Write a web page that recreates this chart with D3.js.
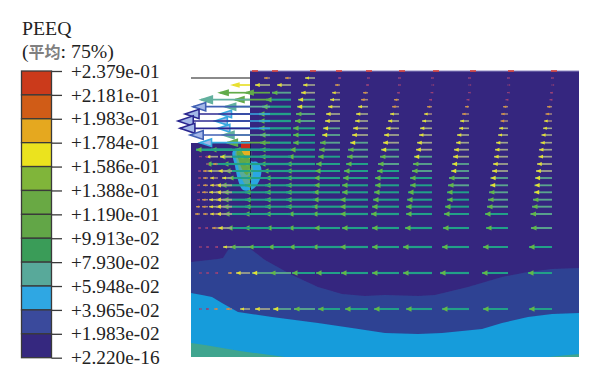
<!DOCTYPE html>
<html>
<head>
<meta charset="utf-8">
<script src="https://cdn.jsdelivr.net/npm/d3@7"></script>
<style>
  html, body { margin: 0; padding: 0; background: #fff; }
  svg { display: block; }
  text { font-family: "Liberation Serif", serif; fill: #222; }
</style>
</head>
<body>
<svg id="chart" width="600" height="384"></svg>
<script>
// Legend
const legendLabels = ["+2.379e-01", "+2.181e-01", "+1.983e-01", "+1.784e-01", "+1.586e-01", "+1.388e-01", "+1.190e-01",
  "+9.913e-02", "+7.930e-02", "+5.948e-02", "+3.965e-02", "+1.983e-02", "+2.220e-16"];
const legendColors = ["#cb3a1b", "#d05c17", "#e5a81f", "#ebe31e", "#80b53a", "#69a944", "#62a647",
  "#3a9c58", "#58a99a", "#2fa7e3", "#3a4a9c", "#35287f"];

// Node positions along the model (x from the left edge, y down from the top edge)
const nodeX = [361, 317, 278, 241, 208, 177, 149, 124, 100, 79, 59, 41, 27, 17, 9];
const rowY = [7, 14, 21.7, 28.7, 35.7, 43, 50, 57.3, 64, 71.7, 78.7, 85.7, 93, 100, 107, 114.3, 121.3, 128.7, 135.7, 143, 157, 176, 202, 238];

// Arrow length for each row (outer) and node column (inner)
const arrowLen = [
  [1, 1, 1, 1, 1, 1, 2, 10, 6, 6],
  [0.5, 0.5, 0.5, 0.5, 1, 2, 5, 12, 14, 15, 17],
  [2, 1, 1, 1.5, 2, 5, 8, 14, 19, 24, 30],
  [2.5, 2.5, 2.5, 3, 5, 7, 10, 17, 25, 35, 49],
  [5, 5, 4, 5, 7, 10, 12, 18, 29, 45, 57],
  [6.5, 7, 7, 8, 9, 12, 14, 19, 32, 50, 65],
  [8, 7.5, 9, 10, 11, 13, 15, 20, 32, 55, 72],
  [9, 9, 10, 12, 13, 15, 17, 22, 32, 52, 70],
  [10.5, 10, 12, 13, 15, 16, 18, 22, 31, 47, 60],
  [11.5, 12, 13, 15, 16, 18, 20, 22, 31, 43, 50],
  [13, 13, 15, 16, 18, 20, 21, 25, 31, 35, 39, 36],
  [13.5, 14, 16, 18, 19, 21, 22, 27, 31, 32, 30, 12, 12, 3, 1],
  [15, 15, 17, 19, 21, 22, 24, 29, 31, 27, 27, 26, 5, 2],
  [16, 16, 18, 20, 22, 24, 25, 29, 28, 25, 25, 14, 10, 5, 2],
  [17, 17.5, 20, 22, 24, 25, 26, 29, 26, 25, 22, 10, 8, 5, 2],
  [17.5, 18, 21, 22, 24, 26, 26, 29, 26, 25, 29, 16, 8, 5, 3],
  [18, 19, 22, 24, 25, 26, 27, 29, 26, 25, 27, 16, 9, 6, 3],
  [19, 20, 22, 25, 26, 28, 27, 29, 26, 25, 27, 16, 9, 6, 3],
  [20, 21, 24, 26, 27, 28, 28, 29, 26, 25, 27, 16, 9, 6, 4],
  [21.5, 23, 25, 26, 28, 28, 28, 27, 26, 26, 26, 16, 8, 5, 5],
  [21, 22, 26, 27, 27, 26, 26, 27, 25, 26, 23, 14, 6, 3, 2],
  [23, 25, 27, 29, 27, 28, 28, 26, 23, 22, 20, 9, 3, 2, 1],
  [24, 26, 29, 29, 27, 27, 24, 23, 21, 18, 14, 4, 3, 2, 1],
  [23, 25, 27, 26, 25, 23, 22, 21, 18, 15, 10, 6, 4, 2, 1]
];

// Red marks on the top surface
const surfaceMarks = [64, 84, 122, 148, 178, 211, 245, 282, 320, 363];

// Contour bands, [x, y] in model units
const midBandTop = [[0, 191], [27, 188], [32, 187], [37, 179], [42, 176], [57, 176], [74, 189], [101, 204], [127, 216], [151, 223], [174, 225], [194, 224], [227, 225], [244, 224], [277, 216], [311, 206], [337, 201], [361, 198], [388, 197]];
const lightBandTop = [[0, 222], [11, 224], [21, 226], [31, 232], [47, 241], [81, 246], [127, 252], [161, 257], [194, 262], [227, 263], [251, 262], [291, 258], [311, 252], [337, 246], [361, 243], [388, 242]];
const tealLeft = [[0, 272], [14, 274], [49, 280], [94, 286]];
const tealRight = [[357, 286], [388, 283]];

// Plastic zone under the footing corner
const zoneBlue = [[42, 80], [44, 95], [48, 112], [52, 119], [62, 118], [69, 108], [70, 96], [66, 91], [60, 90], [59, 78]];
const zoneTeal = [[45, 80], [47, 95], [51, 108], [55, 114], [60, 110], [62, 100], [60, 90], [59, 78]];
const zoneGreen = [[46, 80], [48, 90], [52, 100], [56, 104], [59, 98], [60, 88], [59, 78]];
const zoneYellow = [[50, 79], [53, 84], [59, 88], [59, 78]];

const svg = d3.select("#chart");

const defs = svg.append("defs");
defs.append("filter").attr("id", "soft")
  .attr("filterUnits", "userSpaceOnUse")
  .attr("x", 0).attr("y", 0).attr("width", 600).attr("height", 384)
  .append("feGaussianBlur").attr("stdDeviation", 0.55);

const x = d3.scaleLinear().domain([0, 388]).range([191, 579]);
const y = d3.scaleLinear().domain([0, 286]).range([71, 357]);

// Colours picked by arrow length
const shaftColor = d3.scaleThreshold().domain([4, 9, 17, 22]).range(["#7a4486", "#a08482", "#a0a48c", "#5aa48e", "#22a088"]);
const headColor = d3.scaleThreshold().domain([4, 8, 19]).range(["#a84070", "#d8923e", "#e2e034", "#62b848"]);
const airColor = d3.scaleThreshold().domain([20, 44, 49.5, 56, 64]).range(["#e8e030", "#62ab4a", "#62b09e", "#35a8e0", "#4060b4", "#2c2890"]);

// Legend colour bar
const legendY = d3.scalePoint().domain(legendLabels).range([71, 357.7]);
const legend = svg.append("g");
legend.selectAll("rect")
  .data(legendColors)
  .enter()
  .append("rect")
  .attr("x", 21.5)
  .attr("width", 30)
  .attr("y", (d, i) => legendY(legendLabels[i]))
  .attr("height", legendY.step())
  .attr("fill", (d) => d)
  .attr("stroke", "#3a3a3a")
  .attr("stroke-width", 1.3);

const legendAxis = svg.append("g")
  .attr("transform", "translate(51.5,0)")
  .call(d3.axisRight(legendY).tickSize(10.5).tickPadding(9));
legendAxis.select(".domain").remove();
legendAxis.selectAll("line").attr("stroke", "#3a3a3a").attr("stroke-width", 1.3);
legendAxis.selectAll("text")
  .attr("font-family", "Liberation Serif")
  .attr("font-size", 19.3)
  .attr("fill", "#222");

svg.append("text").attr("x", 22).attr("y", 35).attr("font-size", 19.8).text("PEEQ");
const sub = svg.append("text").attr("x", 22).attr("y", 58).attr("font-size", 19.8);
sub.append("tspan").text("(");
sub.append("tspan")
  .attr("font-family", "Noto Sans CJK SC")
  .attr("font-size", 16)
  .attr("font-weight", 700)
  .style("fill", "#808080")
  .text("平均");
sub.append("tspan").text(": 75%)");

// Model
const model = svg.append("g").attr("filter", "url(#soft)");

const area = d3.area().x((d) => x(d[0])).y0(y(286)).y1((d) => y(d[1]));
const outline = d3.line().x((d) => x(d[0])).y((d) => y(d[1]));
const blob = d3.line().x((d) => x(d[0])).y((d) => y(d[1])).curve(d3.curveCatmullRomClosed.alpha(0.5));

model.append("path")
  .attr("d", outline([[59, 0], [388, 0], [388, 286], [0, 286], [0, 72], [59, 72]]) + "Z")
  .attr("fill", "#35287f");
model.append("path").attr("d", area(midBandTop)).attr("fill", "#2f4293");
model.append("path").attr("d", area(lightBandTop)).attr("fill", "#149cdb");
model.append("path").attr("d", area(tealLeft)).attr("fill", "#3fa58f");
model.append("path").attr("d", area(tealRight)).attr("fill", "#3fa58f");

model.append("line")
  .attr("x1", x(59)).attr("x2", x(388)).attr("y1", y(0)).attr("y2", y(0))
  .attr("stroke", "#8d86c0").attr("stroke-width", 1.2);
model.selectAll("line.mark")
  .data(surfaceMarks)
  .enter()
  .append("line")
  .attr("class", "mark")
  .attr("x1", (d) => x(d) - 3).attr("x2", (d) => x(d) + 3)
  .attr("y1", y(0)).attr("y2", y(0))
  .attr("stroke", "#d8403a").attr("stroke-width", 1.6);

model.append("path").attr("d", blob(zoneBlue)).attr("fill", "#2ba6e2");
model.append("path").attr("d", blob(zoneTeal)).attr("fill", "#58ab9a");
model.append("path").attr("d", blob(zoneGreen)).attr("fill", "#62a84a");
model.append("path").attr("d", outline(zoneYellow) + "Z").attr("fill", "#e6b020");
model.append("rect")
  .attr("x", x(50)).attr("y", y(70)).attr("width", x(59) - x(50)).attr("height", y(79) - y(70))
  .attr("fill", "#cc2a1a");

model.append("line")
  .attr("x1", x(59.5)).attr("x2", x(59.5)).attr("y1", y(72)).attr("y2", y(144))
  .attr("stroke", "#1c1a48").attr("stroke-width", 1);

// Top row line with no arrow head
model.append("line")
  .attr("x1", x(0)).attr("x2", x(59)).attr("y1", y(rowY[0])).attr("y2", y(rowY[0]))
  .attr("stroke", "#8a8a8a").attr("stroke-width", 1.8);

const arrows = [];
arrowLen.forEach((row, r) => {
  row.forEach((len, c) => {
    arrows.push({ len, tail: nodeX[c], depth: rowY[r], air: r < 10 && nodeX[c] - len < 59 });
  });
});

const arrowHead = (d) => {
  const tipX = x(d.tail - d.len);
  const h = y(d.depth);
  const size = d.air ? d.len * 0.17 + 3 : Math.min(2.5 + d.len * 0.15, 5.5);
  const half = d.air ? d.len * 0.065 + 0.5 : Math.min(0.8 + d.len * 0.08, 2.7);
  return `M${tipX},${h}L${tipX + size},${h - half}L${tipX + size},${h + half}Z`;
};

const arrow = model.append("g")
  .selectAll("g")
  .data(arrows.filter((d) => d.len > 0))
  .enter()
  .append("g");

arrow.append("line")
  .attr("x1", (d) => x(d.tail))
  .attr("x2", (d) => x(d.tail - d.len))
  .attr("y1", (d) => y(d.depth))
  .attr("y2", (d) => y(d.depth))
  .attr("stroke", (d) => d.air ? airColor(d.len) : shaftColor(d.len))
  .attr("stroke-width", (d) => d.air ? 1.7 : 1.3 + d.len * 0.03);

arrow.append("path")
  .attr("d", arrowHead)
  .attr("fill", (d) => {
    if (!d.air) return headColor(d.len);
    return d.len >= 49.5 ? "#a4b8e8" : airColor(d.len);
  })
  .attr("stroke", (d) => d.air ? airColor(d.len) : "none")
  .attr("stroke-width", 1.6);
</script>
</body>
</html>
